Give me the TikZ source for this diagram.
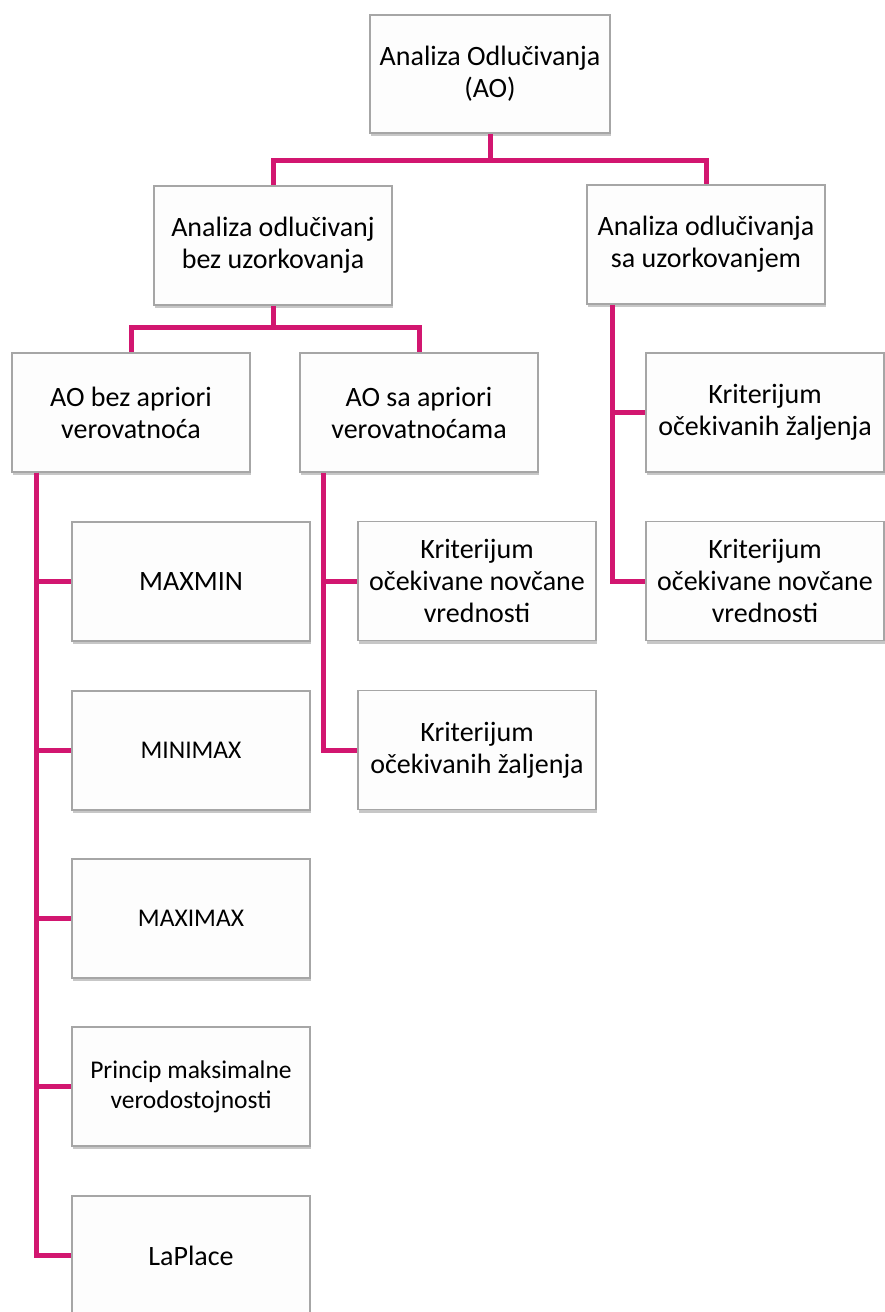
\documentclass[tikz,border=0pt]{standalone}
\usepackage{fontspec}
\setmainfont{Carlito}
\usetikzlibrary{shadows,calc}
\definecolor{conn}{RGB}{210,22,112}
\definecolor{boxline}{RGB}{166,166,166}
\definecolor{boxfill}{RGB}{253,253,253}
\tikzset{
  box/.style={draw=boxline, line width=1.5pt, fill=boxfill, minimum width=238pt, minimum height=119pt,
    inner sep=0pt, align=center, font=\fontsize{28}{32}\selectfont,
    drop shadow={shadow xshift=1pt, shadow yshift=-3pt, opacity=0.22, fill=black}},
  smallbox/.style={box, font=\fontsize{25.5}{30}\selectfont},
  link/.style={draw=conn, line width=5pt}
}
\begin{document}
\begin{tikzpicture}[x=1pt,y=-1pt]
\useasboundingbox (0,0) rectangle (884,1312);
% nodes
\node[box, minimum width=240pt, minimum height=118pt] (top) at (490,74) {Analiza Odlučivanja\\(AO)};
\node[box] (l2a) at (273,245.5) {Analiza odlučivanj\\bez uzorkovanja};
\node[box] (l2b) at (706,244.5) {Analiza odlučivanja\\sa uzorkovanjem};
\node[box] (l3a) at (131,412.5) {AO bez apriori\\verovatnoća};
\node[box] (l3b) at (419,412.5) {AO sa apriori\\verovatnoćama};
\node[box] (r1) at (765,412.5) {Kriterijum\\očekivanih žaljenja};
\node[box] (r2) at (765,581) {Kriterijum\\očekivane novčane\\vrednosti};
\node[box] (m1) at (477,581) {Kriterijum\\očekivane novčane\\vrednosti};
\node[box] (m2) at (477,750) {Kriterijum\\očekivanih žaljenja};
\node[box] (a1) at (191,581.5) {MAXMIN};
\node[smallbox] (a2) at (191,750.5) {MINIMAX};
\node[smallbox] (a3) at (191,918.5) {MAXIMAX};
\node[smallbox] (a4) at (191,1086.5) {Princip maksimalne\\verodostojnosti};
\node[box] (a5) at (191,1255.5) {LaPlace};
% spine coordinates
\coordinate (ja) at ($(top.south)+(0,27)$);
\coordinate (jb) at ($(l2a.south)+(0,22)$);
\coordinate (sa) at ($(l3a.south west)+(25,0)$);
\coordinate (sb) at ($(l3b.south west)+(24,0)$);
\coordinate (sc) at ($(l2b.south west)+(26,0)$);
% connectors
\draw[link] (top.south) -- (ja) -| (l2a.north);
\draw[link] (ja) -| (l2b.north);
\draw[link] (l2a.south) -- (jb) -| (l3a.north);
\draw[link] (jb) -| (l3b.north);
\foreach \n in {a1,a2,a3,a4,a5} \draw[link] (sa) |- (\n.west);
\foreach \n in {m1,m2} \draw[link] (sb) |- (\n.west);
\foreach \n in {r1,r2} \draw[link] (sc) |- (\n.west);
\end{tikzpicture}
\end{document}
